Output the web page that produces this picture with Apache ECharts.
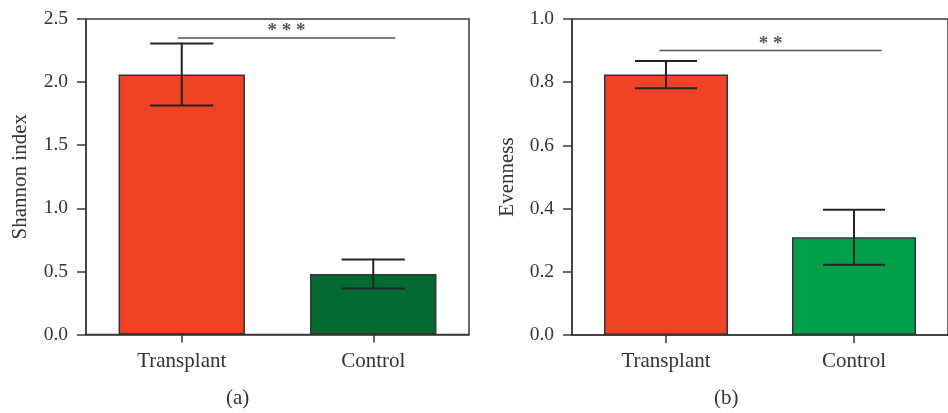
<!DOCTYPE html>
<html>
<head>
<meta charset="utf-8">
<script src="https://cdn.jsdelivr.net/npm/echarts@6/dist/echarts.min.js"></script>
<style>html,body{margin:0;padding:0;background:#fff}#c{width:948px;height:413px}</style>
</head>
<body>
<div id="c"></div>
<script>
const categories = ['Transplant', 'Control'];
const shannonMean = [2.06, 0.48];
const shannonErr = [0.245, 0.115];
const evennessMean = [0.824, 0.309];
const evennessErr = [0.043, 0.087];
const shannonTicks = [0, 0.5, 1.0, 1.5, 2.0, 2.5];
const evennessTicks = [0, 0.2, 0.4, 0.6, 0.8, 1.0];
const shannonSig = { y: 2.35, label: '* * *' };
const evennessSig = { y: 0.9, label: '* *' };
const panelLabels = ['(a)', '(b)'];

const FONT = 'Liberation Serif';
const AX = '#3a3a3a';
const shannonColors = ['#EE4425', '#006A31'];
const evennessColors = ['#EE4425', '#00A04A'];

function yAxis(idx, ticks, name, gap) {
  return {
    type: 'value', gridIndex: idx, min: ticks[0], max: ticks[ticks.length - 1],
    interval: ticks[1] - ticks[0],
    name: name, nameLocation: 'middle', nameGap: gap,
    nameTextStyle: { fontFamily: FONT, fontSize: 21, color: '#333' },
    axisLine: { show: true, lineStyle: { color: AX, width: 1.5 } },
    axisTick: { show: true, length: 9, lineStyle: { color: AX, width: 1.5 } },
    axisLabel: { margin: 18, fontFamily: FONT, fontSize: 19.5, color: '#333',
      formatter: v => v.toFixed(1) },
    splitLine: { show: false }
  };
}
function xAxis(idx) {
  return {
    type: 'category', gridIndex: idx, data: categories,
    axisLine: { show: true, lineStyle: { color: AX, width: 1.5 } },
    axisTick: { show: true, alignWithLabel: true, length: 8, lineStyle: { color: AX, width: 1.5 } },
    axisLabel: { margin: 16, fontFamily: FONT, fontSize: 21, color: '#333' }
  };
}
function bars(idx, means, colors) {
  return {
    type: 'bar', xAxisIndex: idx, yAxisIndex: idx, barWidth: '66%',
    data: means.map((v, i) => ({ value: v, itemStyle: { color: colors[i], borderColor: '#333', borderWidth: 1.5 } })),
    z: 2
  };
}
function errBars(idx, means, errs) {
  return {
    type: 'custom', xAxisIndex: idx, yAxisIndex: idx, z: 5,
    data: means.map((m, i) => [i, m - errs[i], m + errs[i]]),
    renderItem: function (params, api) {
      const lo = api.coord([api.value(0), api.value(1)]);
      const hi = api.coord([api.value(0), api.value(2)]);
      const half = api.size([1, 0])[0] * 0.165;
      const st = { stroke: '#222', lineWidth: 2 };
      return { type: 'group', children: [
        { type: 'line', shape: { x1: lo[0], y1: lo[1], x2: hi[0], y2: hi[1] }, style: st },
        { type: 'line', shape: { x1: lo[0] - half, y1: lo[1], x2: lo[0] + half, y2: lo[1] }, style: st },
        { type: 'line', shape: { x1: hi[0] - half, y1: hi[1], x2: hi[0] + half, y2: hi[1] }, style: st }
      ] };
    }
  };
}
function sigLine(idx, sig, span) {
  return {
    type: 'custom', xAxisIndex: idx, yAxisIndex: idx, z: 6,
    data: [[0, 1, sig.y]],
    renderItem: function (params, api) {
      const a = api.coord([0, sig.y]);
      const b = api.coord([1, sig.y]);
      const bw = api.size([1, 0])[0];
      const x1 = a[0] + span[0] * bw, x2 = b[0] + span[1] * bw;
      return { type: 'group', children: [
        { type: 'line', shape: { x1: x1, y1: a[1], x2: x2, y2: a[1] }, style: { stroke: '#555', lineWidth: 1.5 } },
        { type: 'text', x: (x1 + x2) / 2, y: a[1] + 3,
          style: { text: sig.label, fontFamily: FONT, fontSize: 19, fontWeight: 'bold', fill: '#555', align: 'center', verticalAlign: 'bottom' } }
      ] };
    }
  };
}

const chart = echarts.init(document.getElementById('c'), null, { renderer: 'canvas' });
chart.setOption({
  animation: false,
  grid: [
    { left: 86, top: 19, width: 383, height: 315.5, show: true, borderColor: AX, borderWidth: 1.5 },
    { left: 572, top: 19, width: 387, height: 316, show: true, borderColor: AX, borderWidth: 1.5 }
  ],
  xAxis: [xAxis(0), xAxis(1)],
  yAxis: [yAxis(0, shannonTicks, 'Shannon index', 55), yAxis(1, evennessTicks, 'Evenness', 54)],
  series: [
    bars(0, shannonMean, shannonColors),
    bars(1, evennessMean, evennessColors),
    errBars(0, shannonMean, shannonErr),
    errBars(1, evennessMean, evennessErr),
    sigLine(0, shannonSig, [-0.02, 0.115]),
    sigLine(1, evennessSig, [-0.035, 0.147])
  ],
  graphic: [
    { type: 'text', left: 226, top: 388, style: { text: panelLabels[0], fontFamily: FONT, fontSize: 21, fill: '#333' } },
    { type: 'text', left: 714, top: 388, style: { text: panelLabels[1], fontFamily: FONT, fontSize: 21, fill: '#333' } }
  ]
});
</script>
</body>
</html>
